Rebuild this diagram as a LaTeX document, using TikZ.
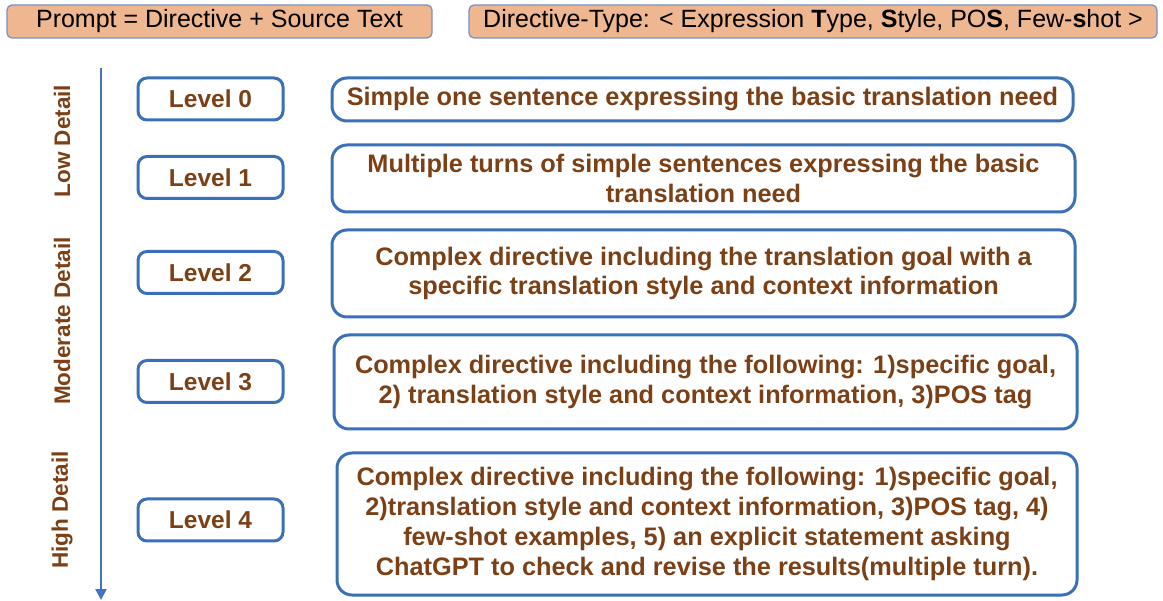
\documentclass[tikz,border=0pt]{standalone}
\usepackage{fontspec}
\setmainfont{Liberation Sans}
\usetikzlibrary{arrows.meta}

\definecolor{boxblue}{RGB}{58,112,184}
\definecolor{axisblue}{RGB}{70,114,196}
\definecolor{txtbrown}{RGB}{124,64,22}
\definecolor{headfill}{RGB}{239,183,144}
\definecolor{headline}{RGB}{120,146,200}

\tikzset{every picture/.style={line width=0.75pt}}
\tikzset{
  headbox/.style={draw=headline, line width=1.3pt, fill=headfill, rounded corners=5pt,
    minimum height=33pt, inner sep=0pt, font=\fontsize{25}{30}\selectfont},
  levelbox/.style={draw=boxblue, line width=3pt, rounded corners=9pt, text=txtbrown,
    minimum width=145pt, minimum height=42pt, inner sep=0pt, font=\fontsize{24.5}{29.5}\selectfont\bfseries},
  descbox/.style={draw=boxblue, line width=3pt, rounded corners=15pt, text=txtbrown, align=center,
    inner sep=0pt, font=\fontsize{25.3}{29.8}\selectfont\bfseries},
  sidelabel/.style={rotate=90, text=txtbrown, inner sep=0pt, font=\fontsize{22.5}{27}\selectfont\bfseries}
}

\begin{document}
\begin{tikzpicture}[x=1pt,y=1pt,yscale=-1,xscale=1]
\useasboundingbox (0,0) rectangle (1163,601);

%Header boxes
\node [headbox, minimum width=425pt] (prompt) at (219.5,21.5) {Prompt = Directive + Source Text};
\node [headbox, minimum width=688pt] (dtype) at (813,21.5) {Directive-Type: < Expression \textbf{T}ype, \textbf{S}tyle, PO\textbf{S}, Few-\textbf{s}hot >};

%Detail axis
\coordinate (axtop) at (101,68);
\coordinate (axbot) at (101,600);
\draw [color=axisblue, line width=2.5pt, -{Triangle[length=11pt,width=11pt]}] (axtop) -- (axbot);

% Text Node
\node [sidelabel] (low) at (62,141) {Low Detail};
\node [sidelabel] (moderate) at (62,321) {Moderate Detail};
\node [sidelabel] (high) at (62,510) {High Detail};

%Level boxes
\node [levelbox] (lv0) at (210.5,99) {Level 0};
\node [levelbox] (lv1) at (210.5,177.5) {Level 1};
\node [levelbox] (lv2) at (210.5,272.5) {Level 2};
\node [levelbox] (lv3) at (210.5,381.5) {Level 3};
\node [levelbox] (lv4) at (210.5,520) {Level 4};

%Directive boxes
\node [descbox, minimum width=741pt, minimum height=43pt] (dir0) at (702.5,99.5)
  {\raisebox{-2pt}{Simple one sentence expressing the basic translation need}};
\node [descbox, minimum width=743pt, minimum height=67pt] (dir1) at (703.5,178.5)
  {Multiple turns of simple sentences expressing the basic\\translation need};
\node [descbox, minimum width=743pt, minimum height=87pt] (dir2) at (703.5,273.5)
  {Complex directive including the translation goal with a\\specific translation style and context information};
\node [descbox, minimum width=743pt, minimum height=94pt] (dir3) at (705.5,382)
  {Complex directive including the following: 1)specific goal,\\2) translation style and context information, 3)POS tag};
\node [descbox, minimum width=740pt, minimum height=142pt] (dir4) at (707,524)
  {Complex directive including the following: 1)specific goal,\\2)translation style and context information, 3)POS tag, 4)\\few-shot examples, 5) an explicit statement asking\\ChatGPT to check and revise the results(multiple turn).};

\end{tikzpicture}
\end{document}
